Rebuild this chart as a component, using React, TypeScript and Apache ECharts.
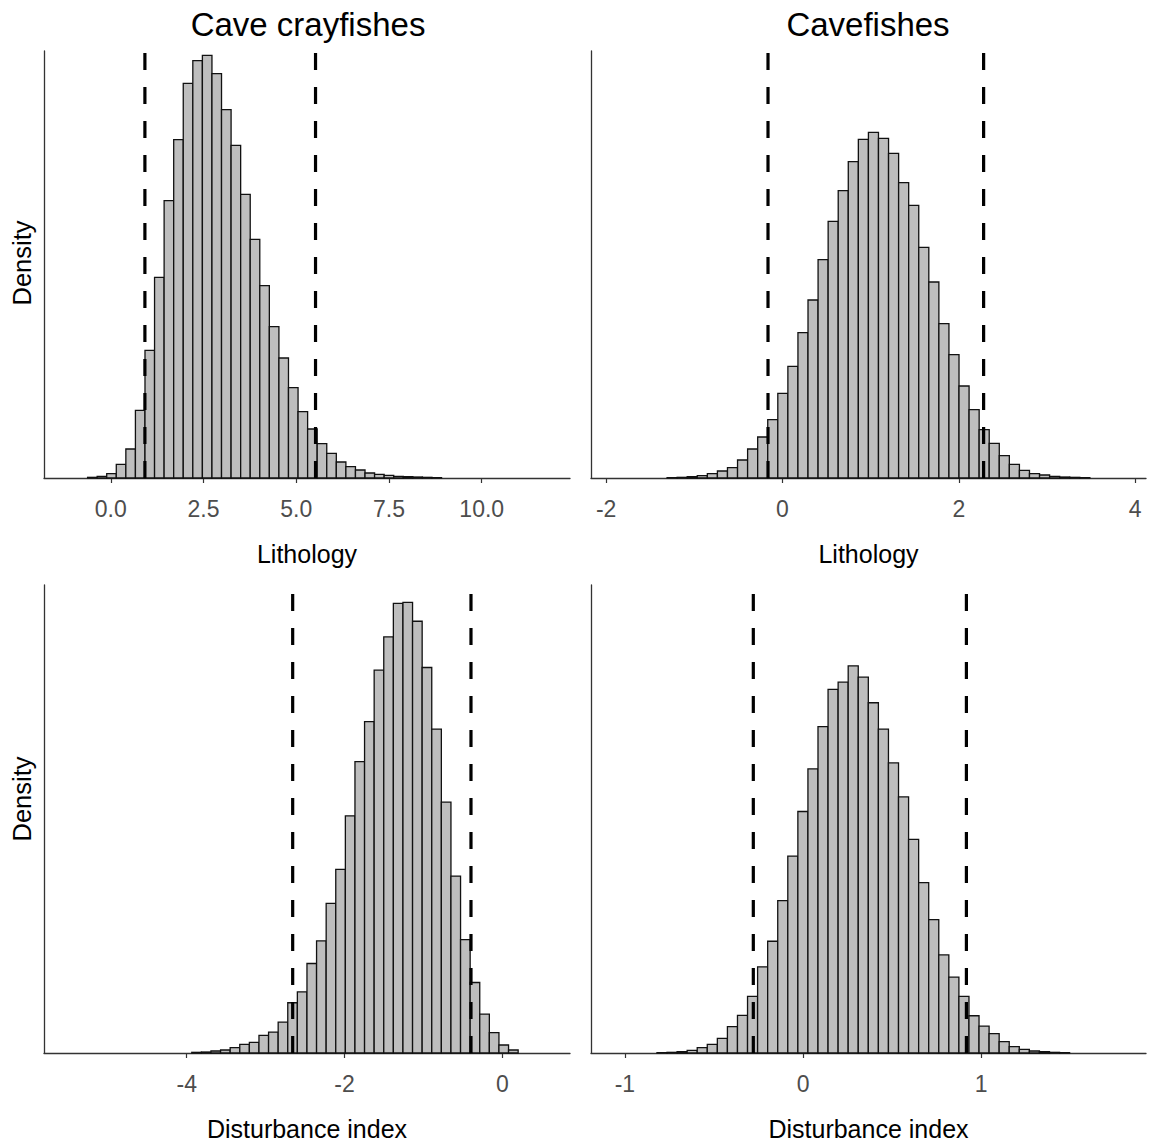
import React, { useEffect, useRef } from "react";
import * as echarts from "echarts";

// ---- Data (relative density heights) ----
const panelTitles = ["Cave crayfishes", "Cavefishes"];
const xAxisNames = ["Lithology", "Lithology", "Disturbance index", "Disturbance index"];

// Panel 1: Cave crayfishes, Lithology
const crayLithoBinStart = -0.625;
const crayLithoBinWidth = 0.2579;
const crayLithoDensity = [
  2, 5, 13, 41, 87, 203, 383, 602, 832, 1015, 1184, 1252, 1268, 1213, 1105, 998,
  851, 716, 577, 454, 360, 271, 199, 147, 103, 74, 48, 34, 24, 15, 11, 8, 5, 4, 3, 2, 1,
];
const crayLithoInterval = [0.92, 5.52];
const crayLithoTicks = [0, 2.5, 5, 7.5, 10];
const crayLithoRange = [-1.8, 12.38];

// Panel 2: Cavefishes, Lithology
const fishLithoBinStart = -1.309;
const fishLithoBinWidth = 0.1142;
const fishLithoDensity = [
  1, 2, 4, 7, 13, 21, 31, 54, 87, 123, 175, 254, 335, 436, 534, 655, 770, 862, 949,
  1016, 1037, 1019, 974, 886, 818, 692, 588, 463, 370, 276, 205, 145, 104, 67, 41, 23,
  13, 9, 5, 3, 2, 1,
];
const fishLithoInterval = [-0.164, 2.282];
const fishLithoTicks = [-2, 0, 2, 4];
const fishLithoRange = [-2.172, 4.124];

// Panel 3: Cave crayfishes, Disturbance index
const crayDistBinStart = -3.936;
const crayDistBinWidth = 0.12167;
const crayDistDensity = [
  2, 3, 6, 9, 16, 26, 32, 53, 63, 93, 151, 184, 269, 337, 450, 552, 713, 876, 996,
  1151, 1251, 1352, 1355, 1298, 1159, 974, 754, 532, 341, 212, 117, 61, 24, 9,
];
const crayDistInterval = [-2.657, -0.397];
const crayDistTicks = [-4, -2, 0];
const crayDistRange = [-5.809, 0.858];

// Panel 4: Cavefishes, Disturbance index
const fishDistBinStart = -0.8198;
const fishDistBinWidth = 0.05649;
const fishDistDensity = [
  1, 2, 4, 8, 16, 26, 44, 79, 113, 170, 259, 336, 458, 592, 726, 854, 981, 1093, 1115,
  1164, 1130, 1053, 974, 872, 770, 642, 512, 401, 295, 228, 170, 112, 81, 58, 34, 19,
  11, 6, 4, 2, 1,
];
const fishDistInterval = [-0.279, 0.917];
const fishDistTicks = [-1, 0, 1];
const fishDistRange = [-1.19, 1.925];

const topYMax = 1281;
const bottomYMax = 1407;

// ---- Chart ----
const FONT = "'Liberation Sans', Arial, Helvetica, sans-serif";

type Panel = {
  start: number;
  width: number;
  dens: number[];
  interval: number[];
  ticks: number[];
  range: number[];
  yMax: number;
  fmt: (v: number) => string;
  grid: { left: number; top: number; width: number; height: number };
};

const panels: Panel[] = [
  {
    start: crayLithoBinStart, width: crayLithoBinWidth, dens: crayLithoDensity,
    interval: crayLithoInterval, ticks: crayLithoTicks, range: crayLithoRange, yMax: topYMax,
    fmt: (v) => v.toFixed(1),
    grid: { left: 44, top: 51, width: 526, height: 427 },
  },
  {
    start: fishLithoBinStart, width: fishLithoBinWidth, dens: fishLithoDensity,
    interval: fishLithoInterval, ticks: fishLithoTicks, range: fishLithoRange, yMax: topYMax,
    fmt: (v) => String(Math.round(v)),
    grid: { left: 591, top: 51, width: 555, height: 427 },
  },
  {
    start: crayDistBinStart, width: crayDistBinWidth, dens: crayDistDensity,
    interval: crayDistInterval, ticks: crayDistTicks, range: crayDistRange, yMax: bottomYMax,
    fmt: (v) => String(Math.round(v)),
    grid: { left: 44, top: 585, width: 526, height: 469 },
  },
  {
    start: fishDistBinStart, width: fishDistBinWidth, dens: fishDistDensity,
    interval: fishDistInterval, ticks: fishDistTicks, range: fishDistRange, yMax: bottomYMax,
    fmt: (v) => String(Math.round(v)),
    grid: { left: 591, top: 585, width: 555, height: 469 },
  },
];

export default function App() {
  const ref = useRef<HTMLDivElement>(null);

  useEffect(() => {
    if (!ref.current) return;
    const chart = echarts.init(ref.current, null, { renderer: "svg" });

    const grid: any[] = [];
    const xAxis: any[] = [];
    const yAxis: any[] = [];
    const series: any[] = [];

    panels.forEach((p, i) => {
      grid.push({ ...p.grid, containLabel: false });
      xAxis.push({
        type: "value",
        gridIndex: i,
        min: p.range[0],
        max: p.range[1],
        name: xAxisNames[i],
        nameLocation: "middle",
        nameGap: 63,
        nameTextStyle: { color: "#000", fontSize: 25, fontFamily: FONT },
        axisLine: { show: true, onZero: false, lineStyle: { color: "#333", width: 1.3 } },
        axisTick: { show: true, customValues: p.ticks, length: 5, lineStyle: { color: "#333", width: 1.2 } },
        axisLabel: {
          show: true,
          customValues: p.ticks,
          formatter: (v: number) => p.fmt(v),
          color: "#4d4d4d",
          fontSize: 23,
          fontFamily: FONT,
          margin: 19,
        },
        splitLine: { show: false },
      });
      yAxis.push({
        type: "value",
        gridIndex: i,
        min: 0,
        max: p.yMax,
        axisLine: { show: true, onZero: false, lineStyle: { color: "#333", width: 1.3 } },
        axisTick: { show: false },
        axisLabel: { show: false },
        splitLine: { show: false },
      });
      const data = p.dens.map((d, k) => [p.start + k * p.width, p.start + (k + 1) * p.width, d]);
      series.push({
        type: "custom",
        xAxisIndex: i,
        yAxisIndex: i,
        data,
        encode: { x: [0, 1], y: 2 },
        silent: true,
        renderItem: (_params: any, api: any) => {
          const a = api.coord([api.value(0), api.value(2)]);
          const b = api.coord([api.value(1), 0]);
          return {
            type: "rect",
            shape: { x: a[0], y: a[1], width: b[0] - a[0], height: b[1] - a[1] },
            style: { fill: "#bebebe", stroke: "#111", lineWidth: 1.3 },
          };
        },
      });
      p.interval.forEach((v) => {
        series.push({
          type: "line",
          xAxisIndex: i,
          yAxisIndex: i,
          data: [[v, 0], [v, p.yMax]],
          symbol: "none",
          silent: true,
          lineStyle: { color: "#000", width: 3.2, type: [17, 17] },
          z: 5,
        });
      });
    });

    const graphic: any[] = [
      {
        type: "text", x: 308, y: 24,
        style: { text: panelTitles[0], fontSize: 33, fontFamily: FONT, fill: "#000", align: "center", verticalAlign: "middle" },
      },
      {
        type: "text", x: 868, y: 24,
        style: { text: panelTitles[1], fontSize: 33, fontFamily: FONT, fill: "#000", align: "center", verticalAlign: "middle" },
      },
      {
        type: "text", x: 22, y: 263, rotation: Math.PI / 2,
        style: { text: "Density", fontSize: 25.5, fontFamily: FONT, fill: "#000", align: "center", verticalAlign: "middle" },
      },
      {
        type: "text", x: 22, y: 799, rotation: Math.PI / 2,
        style: { text: "Density", fontSize: 25.5, fontFamily: FONT, fill: "#000", align: "center", verticalAlign: "middle" },
      },
    ];

    chart.setOption({
      animation: false,
      backgroundColor: "#fff",
      grid,
      xAxis,
      yAxis,
      series,
      graphic,
    });

    return () => chart.dispose();
  }, []);

  return (
    <div
      ref={ref}
      style={{ position: "absolute", left: 0, top: 0, width: 1155, height: 1142, background: "#fff" }}
    />
  );
}
